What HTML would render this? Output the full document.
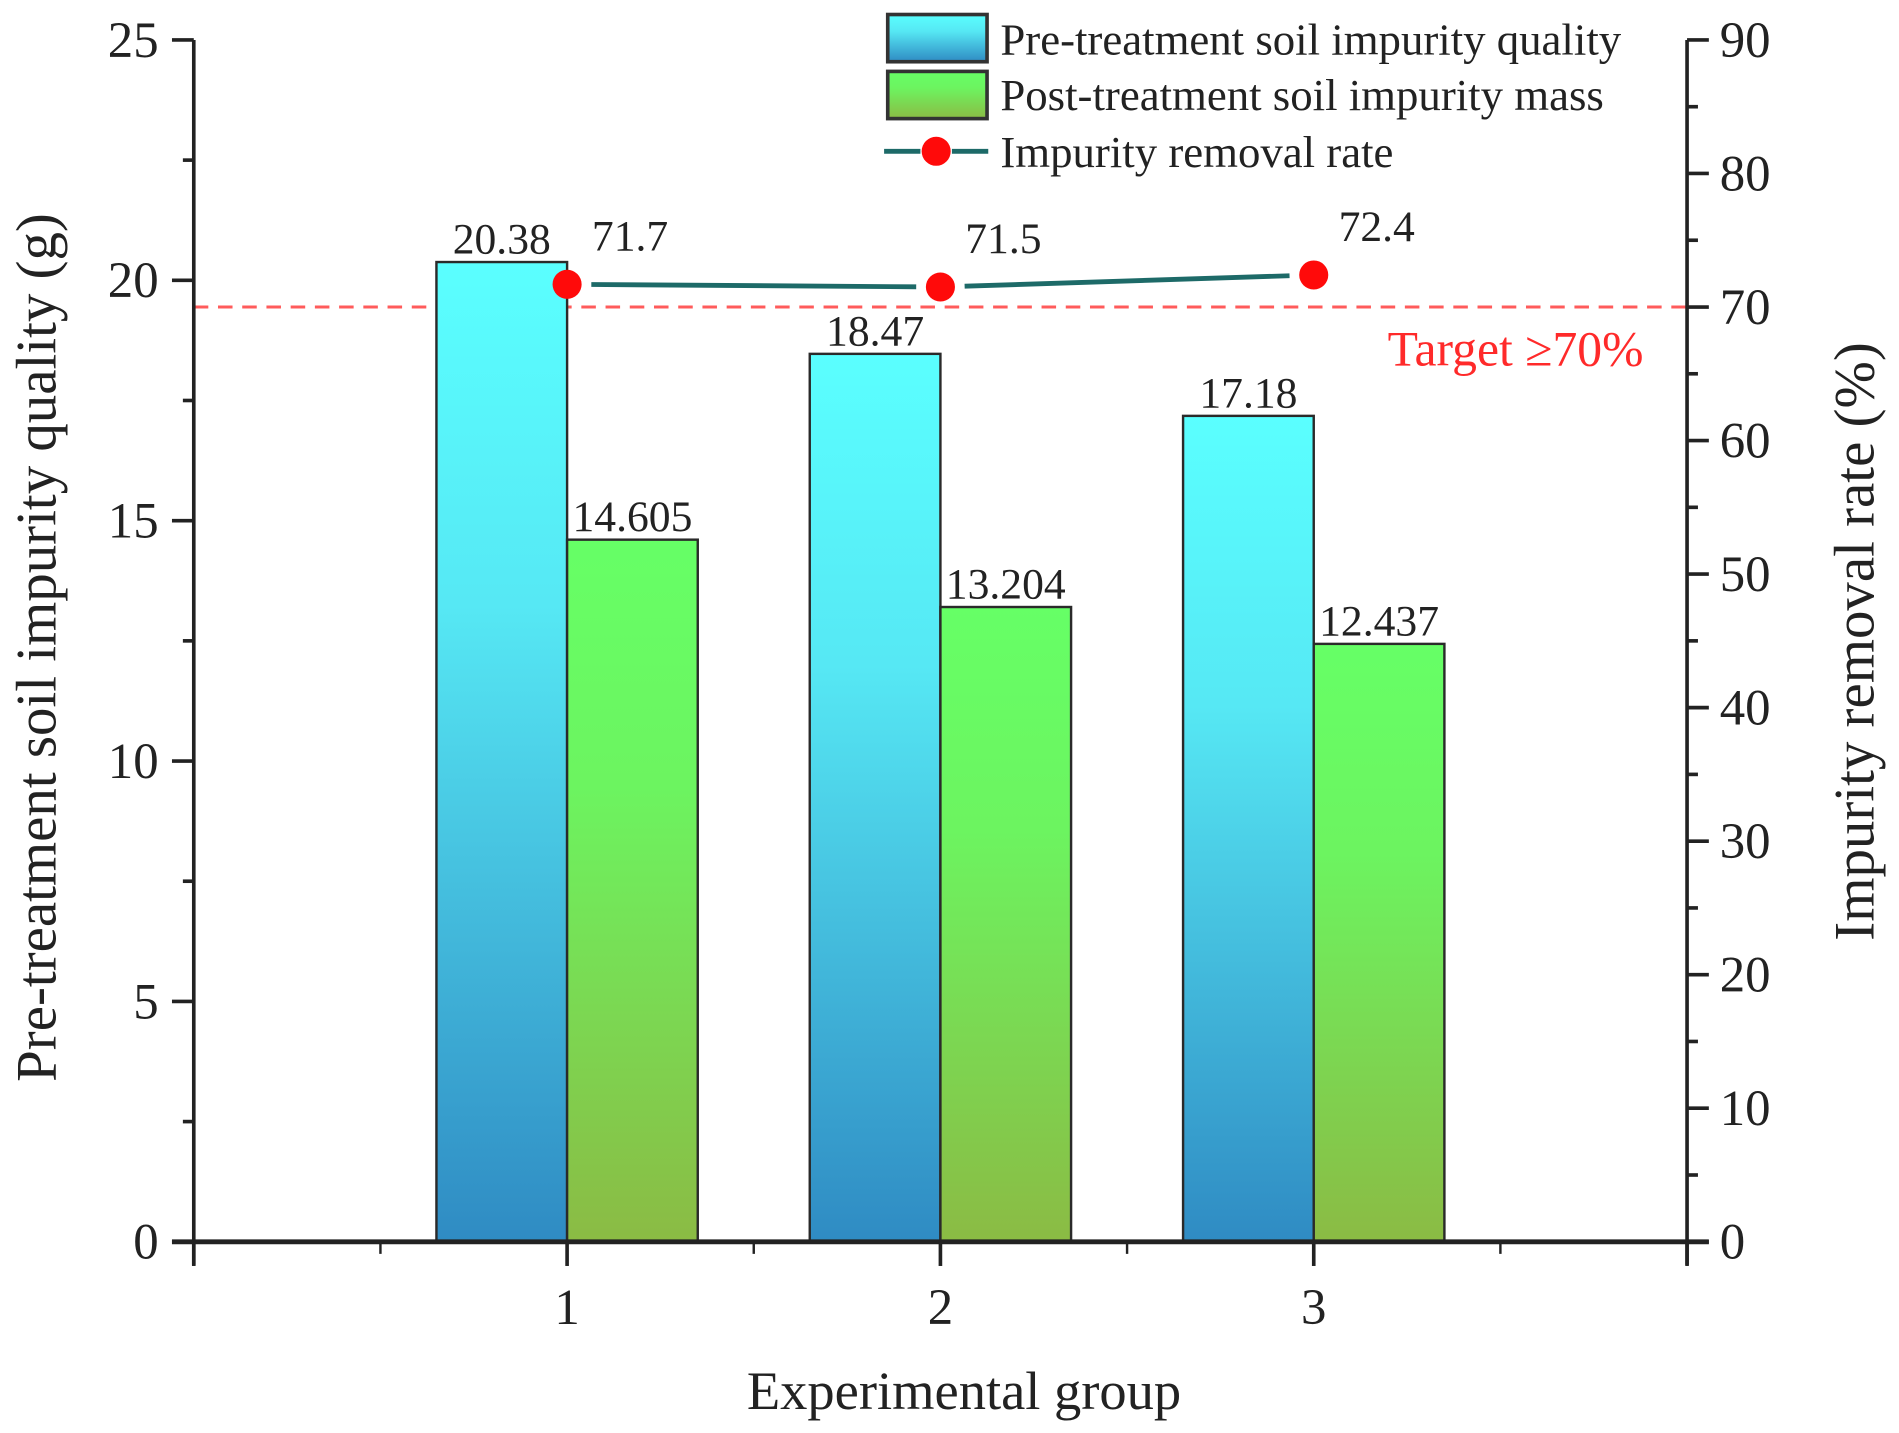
<!DOCTYPE html>
<html><head><meta charset="utf-8"><style>
html,body{margin:0;padding:0;background:#fff;}
svg{display:block;}
text{font-family:"Liberation Serif",serif;fill:#222;}
</style></head><body>
<svg id="chart" width="1899" height="1433" viewBox="0 0 1568 1184" preserveAspectRatio="none" xmlns="http://www.w3.org/2000/svg">
<defs>
<linearGradient id="gBlue" x1="0" y1="0" x2="0" y2="1"><stop offset="0" stop-color="#5affff"/><stop offset="0.35" stop-color="#56e8f4"/><stop offset="1" stop-color="#2f8bc3"/></linearGradient>
<linearGradient id="gGreen" x1="0" y1="0" x2="0" y2="1"><stop offset="0" stop-color="#66ff66"/><stop offset="0.35" stop-color="#6cf460"/><stop offset="1" stop-color="#8bbb44"/></linearGradient>
</defs>
<g id="plot"></g>
</svg>
<script>
const groups = [1, 2, 3];
const preMass = [20.38, 18.47, 17.18];
const postMass = [14.605, 13.204, 12.437];
const removalRate = [71.7, 71.5, 72.4];
const preLabels = ["20.38", "18.47", "17.18"];
const postLabels = ["14.605", "13.204", "12.437"];
const rateLabels = ["71.7", "71.5", "72.4"];
const leftTicks = [0, 5, 10, 15, 20, 25];
const rightTicks = [0, 10, 20, 30, 40, 50, 60, 70, 80, 90];
const targetRate = [70];

const NS = "http://www.w3.org/2000/svg";
const g = document.getElementById("plot");
const X0 = 160, X1 = 1393, Y0 = 1026, YT = 33;
const xS = v => X0 + (X1 - X0) * v / 4;
const yL = v => Y0 - (Y0 - YT) * v / 25;
const yR = v => Y0 - (Y0 - YT) * v / 90;
function el(tag, attrs, parent) {
  const e = document.createElementNS(NS, tag);
  for (const k in attrs) e.setAttribute(k, attrs[k]);
  (parent || g).appendChild(e);
  return e;
}
function txt(s, attrs, parent) { const t = el("text", attrs, parent); t.textContent = s; return t; }
const bw = (xS(1) - xS(0)) * 0.35;

const tl = el("line", {x1: X0, x2: X1, y1: yR(targetRate[0]), y2: yR(targetRate[0]), stroke: "#ff5b5b", "stroke-width": 2.5, "stroke-dasharray": "12 8"});


const tt = txt("Target \u226570%", {x: 1357, y: 302, "text-anchor": "end", "font-size": 41, style: "fill:#ff2a2a"});



groups.forEach((gv, i) => {
  const cx = xS(gv);
  const b1 = el("rect", {x: cx - bw, y: yL(preMass[i]), width: bw, height: Y0 - yL(preMass[i]), fill: "url(#gBlue)", stroke: "#2a2a2a", "stroke-width": 2});
  
  
  const b2 = el("rect", {x: cx, y: yL(postMass[i]), width: bw, height: Y0 - yL(postMass[i]), fill: "url(#gGreen)", stroke: "#2a2a2a", "stroke-width": 2});
  
  
  const l1 = txt(preLabels[i], {x: cx - bw / 2, y: yL(preMass[i]) - 7, "text-anchor": "middle", "font-size": 36});
  
  
  const l2 = txt(postLabels[i], {x: cx + bw / 2, y: yL(postMass[i]) - 7, "text-anchor": "middle", "font-size": 36});
  
  
});

for (let i = 0; i < groups.length - 1; i++) {
  const xa = xS(groups[i]), ya = yR(removalRate[i]), xb = xS(groups[i + 1]), yb = yR(removalRate[i + 1]);
  const d = Math.hypot(xb - xa, yb - ya), ux = (xb - xa) / d, uy = (yb - ya) / d, gap = 20;
  const seg = el("line", {x1: xa + ux * gap, y1: ya + uy * gap, x2: xb - ux * gap, y2: yb - uy * gap, stroke: "#1d6a68", "stroke-width": 4});
  
  
}
groups.forEach((gv, i) => {
  const c = el("circle", {cx: xS(gv), cy: yR(removalRate[i]), r: 12, fill: "#ff0a0a"});
  
  
  const t = txt(rateLabels[i], {x: xS(gv) + 52, y: yR(removalRate[i]) - 28, "text-anchor": "middle", "font-size": 36});
  
  
});

const ax = el("line", {x1: 142, x2: 1411, y1: Y0, y2: Y0, stroke: "#222", "stroke-width": 4});


const la = el("line", {x1: X0, x2: X0, y1: YT, y2: 1045, stroke: "#222", "stroke-width": 3});


const ra = el("line", {x1: X1, x2: X1, y1: YT, y2: 1045, stroke: "#222", "stroke-width": 3});



leftTicks.forEach(v => {
  el("line", {x1: X0 - 18, x2: X0, y1: yL(v), y2: yL(v), stroke: "#222", "stroke-width": 3});
  if (v < 25) el("line", {x1: X0 - 9, x2: X0, y1: yL(v + 2.5), y2: yL(v + 2.5), stroke: "#222", "stroke-width": 3});
  const t = txt(String(v), {x: 131, y: yL(v) + 14, "text-anchor": "end", "font-size": 42});
  
  
});
rightTicks.forEach(v => {
  el("line", {x1: X1, x2: X1 + 18, y1: yR(v), y2: yR(v), stroke: "#222", "stroke-width": 3});
  if (v < 90) el("line", {x1: X1, x2: X1 + 9, y1: yR(v + 5), y2: yR(v + 5), stroke: "#222", "stroke-width": 3});
  const t = txt(String(v), {x: 1420, y: yR(v) + 14, "font-size": 42});
  
  
});
[0, 1, 2, 3, 4].forEach(v => {
  el("line", {x1: xS(v), x2: xS(v), y1: Y0, y2: 1046, stroke: "#222", "stroke-width": 3});
  if (v < 4) el("line", {x1: xS(v + 0.5), x2: xS(v + 0.5), y1: Y0, y2: 1036, stroke: "#222", "stroke-width": 2});
});
groups.forEach(v => {
  const t = txt(String(v), {x: xS(v), y: 1094, "text-anchor": "middle", "font-size": 42});
  
  
});
</script>
<svg style="position:absolute;left:0;top:0" width="1899" height="1433" viewBox="0 0 1568 1184" preserveAspectRatio="none" xmlns="http://www.w3.org/2000/svg">
<text x="796" y="1164" text-anchor="middle" font-size="45">Experimental group</text>
<text transform="translate(46,535) rotate(-90)" text-anchor="middle" font-size="47">Pre-treatment soil impurity quality (g)</text>
<text transform="translate(1547,530) rotate(-90)" text-anchor="middle" font-size="47">Impurity removal rate (%)</text>
<g>
<rect x="733" y="12" width="82" height="39" fill="url(#gBlue)" stroke="#333" stroke-width="3"/>
<rect x="733" y="59" width="82" height="39" fill="url(#gGreen)" stroke="#333" stroke-width="3"/>
<line x1="730" x2="760" y1="125" y2="125" stroke="#1d6a68" stroke-width="4"/>
<line x1="786" x2="816" y1="125" y2="125" stroke="#1d6a68" stroke-width="4"/>
<circle cx="773" cy="125" r="12" fill="#ff0a0a"/>
<text x="826" y="45" font-size="37">Pre-treatment soil impurity quality</text>
<text x="826" y="91" font-size="37">Post-treatment soil impurity mass</text>
<text x="826" y="138" font-size="37">Impurity removal rate</text>
</g>
</svg>
</body></html>
